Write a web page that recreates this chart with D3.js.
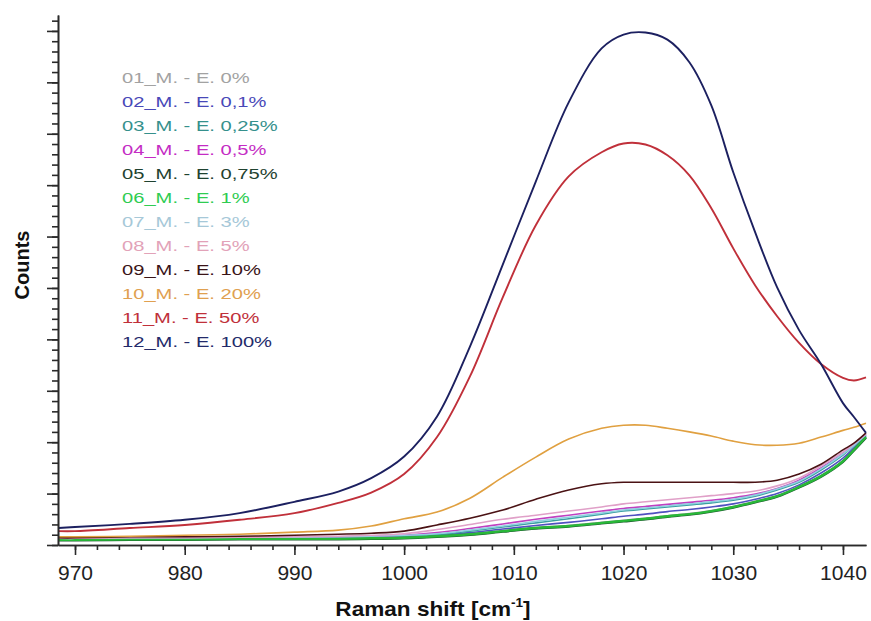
<!DOCTYPE html>
<html><head><meta charset="utf-8">
<script src="https://cdn.jsdelivr.net/npm/d3@7"></script>
<style>body{margin:0;background:#fff}svg{display:block}</style>
</head><body>
<svg id="c" width="871" height="621"></svg>
<script>
// ---- data ----
const xValues = [968.5, 970, 975, 980, 985, 990, 994, 997, 1000, 1003, 1006, 1009, 1012, 1015, 1018, 1020, 1022, 1024, 1026, 1028, 1030, 1032, 1034, 1036, 1038, 1040, 1041, 1042.1];
const seriesNames = ["01_M. - E. 0%", "02_M. - E. 0,1%", "03_M. - E. 0,25%", "04_M. - E. 0,5%", "05_M. - E. 0,75%", "06_M. - E. 1%", "07_M. - E. 3%", "08_M. - E. 5%", "09_M. - E. 10%", "10_M. - E. 20%", "11_M. - E. 50%", "12_M. - E. 100%"];
const legendColors = ["#a2a2a2", "#4848b8", "#35908c", "#c42cc4", "#1f4230", "#2fcc52", "#a6c8d8", "#e2a2b8", "#3a1418", "#e0a050", "#c0303a", "#232a6a"];
const lineColors = ["#a0a0a0", "#5050c0", "#3aa0a0", "#c040c0", "#1f5a30", "#28b838", "#90d0e0", "#e0a0c8", "#4a1214", "#e0a040", "#c0303a", "#1c2060"];
const s01 = [0.11,0.11,0.12,0.12,0.13,0.13,0.13,0.14,0.15,0.18,0.22,0.28,0.34,0.38,0.44,0.48,0.52,0.57,0.61,0.67,0.75,0.85,0.96,1.14,1.35,1.64,1.86,2.11];
const s02 = [0.11,0.11,0.12,0.12,0.13,0.13,0.14,0.15,0.16,0.19,0.24,0.31,0.38,0.44,0.51,0.56,0.60,0.65,0.69,0.74,0.80,0.89,1.00,1.17,1.40,1.69,1.89,2.12];
const s03 = [0.12,0.12,0.13,0.13,0.14,0.14,0.15,0.16,0.17,0.20,0.27,0.35,0.43,0.51,0.60,0.66,0.70,0.74,0.78,0.82,0.87,0.95,1.07,1.22,1.46,1.75,1.93,2.14];
const s04 = [0.12,0.12,0.13,0.13,0.14,0.15,0.16,0.17,0.19,0.24,0.32,0.41,0.50,0.58,0.66,0.71,0.75,0.79,0.83,0.87,0.92,0.99,1.10,1.26,1.50,1.78,1.95,2.15];
const s05 = [0.09,0.09,0.10,0.10,0.11,0.11,0.11,0.12,0.13,0.16,0.20,0.26,0.32,0.36,0.42,0.46,0.50,0.55,0.59,0.65,0.73,0.83,0.94,1.12,1.33,1.62,1.84,2.09];
const s06 = [0.10,0.10,0.11,0.11,0.12,0.12,0.12,0.13,0.14,0.17,0.21,0.27,0.33,0.37,0.43,0.47,0.51,0.56,0.60,0.66,0.74,0.84,0.95,1.13,1.34,1.63,1.85,2.10];
const s07 = [0.13,0.13,0.14,0.14,0.15,0.15,0.16,0.17,0.19,0.22,0.29,0.37,0.46,0.54,0.62,0.68,0.72,0.76,0.80,0.84,0.89,0.97,1.09,1.24,1.48,1.77,1.94,2.15];
const s08 = [0.13,0.13,0.14,0.14,0.15,0.16,0.17,0.19,0.22,0.30,0.40,0.50,0.58,0.66,0.74,0.80,0.84,0.88,0.92,0.96,1.00,1.05,1.15,1.30,1.54,1.81,1.97,2.16];
const s09 = [0.14,0.14,0.16,0.16,0.17,0.19,0.21,0.23,0.27,0.39,0.52,0.68,0.89,1.07,1.19,1.22,1.22,1.22,1.22,1.22,1.22,1.22,1.26,1.38,1.57,1.85,1.98,2.18];
const s10 = [0.16,0.16,0.17,0.19,0.21,0.25,0.29,0.37,0.51,0.64,0.91,1.32,1.71,2.06,2.27,2.33,2.33,2.27,2.20,2.12,2.02,1.95,1.94,1.98,2.10,2.23,2.29,2.37];
const s11 = [0.27,0.27,0.33,0.39,0.49,0.62,0.82,1.02,1.38,2.10,3.28,4.82,6.22,7.17,7.64,7.81,7.79,7.58,7.19,6.55,5.77,5.05,4.45,3.93,3.52,3.25,3.20,3.26];
const s12 = [0.33,0.35,0.41,0.49,0.62,0.84,1.04,1.30,1.72,2.50,3.86,5.46,7.07,8.61,9.66,9.93,9.97,9.83,9.39,8.55,7.25,6.08,5.01,4.18,3.52,2.76,2.49,2.18];
const seriesValues = [s01, s02, s03, s04, s05, s06, s07, s08, s09, s10, s11, s12];
const xTickValues = [970, 980, 990, 1000, 1010, 1020, 1030, 1040];
const xTickLabels = ["970", "980", "990", "1000", "1010", "1020", "1030", "1040"];
const xMinorTicks = d3.range(970, 1042, 2);
const yMajorTicks = d3.range(0, 11, 1);
const yMinorTicks = d3.range(0, 10.3, 0.2);
const xTitle = "Raman shift [cm";
const xTitleSup = "-1";
const yTitle = "Counts";

// ---- layout ----
const svg = d3.select("#c");
const L = 58, R = 866, T = 15, B = 545;
const x = d3.scaleLinear().domain([968.45, 1042.1]).range([L, R]);
const y = d3.scaleLinear().domain([0, 10.31]).range([B, T]);
const font = "'Liberation Sans', Arial, sans-serif";

// curves
const line = d3.line().x((d, i) => x(xValues[i])).y(d => y(d)).curve(d3.curveCatmullRom.alpha(0.5));
seriesValues.forEach((vals, k) => {
  svg.append("path").datum(vals)
    .attr("d", line)
    .attr("fill", "none")
    .attr("stroke", lineColors[k])
    .attr("stroke-width", (k === 5 || k === 4) ? 2.4 : (k >= 10 ? 1.9 : 1.6))
    .attr("stroke-linejoin", "round");
});

// axes
const axisColor = "#2a2a2a";
const yMinor = svg.append("g").attr("transform", `translate(${L},0)`)
  .call(d3.axisLeft(y).tickValues(yMinorTicks).tickSize(6).tickSizeOuter(0).tickFormat(""));
const yMajor = svg.append("g").attr("transform", `translate(${L},0)`)
  .call(d3.axisLeft(y).tickValues(yMajorTicks).tickSize(11).tickSizeOuter(0).tickFormat(""));
const xMinor = svg.append("g").attr("transform", `translate(0,${B})`)
  .call(d3.axisBottom(x).tickValues(xMinorTicks).tickSize(5).tickSizeOuter(0).tickFormat(""));
const xMajor = svg.append("g").attr("transform", `translate(0,${B})`)
  .call(d3.axisBottom(x).tickValues(xTickValues).tickSize(10).tickSizeOuter(0).tickPadding(10)
    .tickFormat((d, i) => xTickLabels[i]));
[yMinor, yMajor, xMinor, xMajor].forEach(g => {
  g.selectAll("path,line").attr("stroke", axisColor).attr("stroke-width", 1.6);
});
xMajor.selectAll("text").attr("font-family", font).attr("font-size", 21).attr("fill", "#222");

// axis titles
const xt = svg.append("text").attr("transform", "translate(433,616) scale(1.13,1)").attr("text-anchor", "middle")
  .attr("font-family", font).attr("font-weight", "bold").attr("font-size", 20).attr("fill", "#111");
xt.append("tspan").text(xTitle);
xt.append("tspan").attr("font-size", 12).attr("dy", -9).text(xTitleSup);
xt.append("tspan").attr("dy", 9).text("]");

svg.append("text").attr("transform", "translate(29,265) rotate(-90)").attr("text-anchor", "middle")
  .attr("font-family", font).attr("font-weight", "bold").attr("font-size", 20).attr("fill", "#111")
  .text(yTitle);

// legend
const lg = svg.append("g").attr("transform", "translate(122,0) scale(1.3,1)");
seriesNames.forEach((n, i) => {
  lg.append("text").attr("x", 0).attr("y", 83 + i * 24)
    .attr("font-family", font).attr("font-size", 15.5).attr("fill", legendColors[i]).text(n);
});
</script>
</body></html>
